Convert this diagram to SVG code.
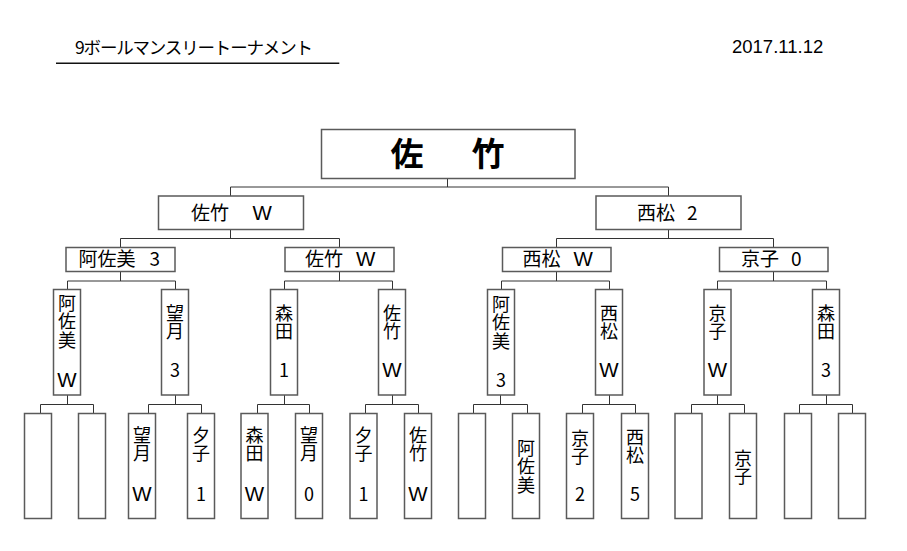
<svg xmlns="http://www.w3.org/2000/svg" width="907" height="551" viewBox="0 0 907 551">
<style>
  .bg { fill: #ffffff; }
  .box { fill: #ffffff; stroke: #5a5a5a; stroke-width: 1.5; }
  .con { fill: none; stroke: #333333; stroke-width: 1; }
  .jp { font-family: "Noto Sans CJK JP", "Noto Sans", sans-serif; font-size: 19px; fill: #000; }
  .vt { font-family: "Noto Sans CJK JP", "Noto Sans", sans-serif; font-size: 18px; fill: #000; text-anchor: middle; }
  .w { font-family: "Liberation Sans", Arial, sans-serif; font-size: 20.5px; }
  .champ { font-family: "Noto Sans CJK JP", sans-serif; font-size: 33px; font-weight: 700; fill: #000; }
  .title { font-family: "Noto Sans CJK JP", "Liberation Sans", sans-serif; font-size: 17.5px; fill: #000; }
  .date { font-family: "Liberation Sans", Arial, sans-serif; font-size: 18.5px; fill: #000; }
</style>
<rect class="bg" x="0" y="0" width="907" height="551"/>

<g id="header">
  <text class="title" x="75" y="53.5" textLength="238" lengthAdjust="spacing">9ボールマンスリートーナメント</text>
  <line x1="56" y1="63.3" x2="339.3" y2="63.3" stroke="#111" stroke-width="1.5"/>
  <text class="date" x="732" y="53">2017.11.12</text>
</g>

<g id="connectors">
  <path class="con" d="M447.5 178.5 V187 M230.5 196 V187 H668.5 V196"/>
  <path class="con" d="M230.5 229.5 V238.5 M120.5 247.5 V238.5 H339.5 V247.5"/>
  <path class="con" d="M668.5 229.5 V238.5 M556.5 247.5 V238.5 H773.5 V247.5"/>
  <path class="con" d="M120.5 271.5 V281 M67.5 289.5 V281 H175.5 V289.5"/>
  <path class="con" d="M339.5 271.5 V281 M284.5 289.5 V281 H392.5 V289.5"/>
  <path class="con" d="M556.5 271.5 V281 M501.5 289.5 V281 H609.5 V289.5"/>
  <path class="con" d="M773.5 271.5 V281 M717.5 289.5 V281 H826.5 V289.5"/>
  <path class="con" d="M67.5 395 V404.5 M40.5 413.5 V404.5 H93.5 V413.5"/>
  <path class="con" d="M175.5 395 V404.5 M148.5 413.5 V404.5 H201.5 V413.5"/>
  <path class="con" d="M284.5 395 V404.5 M257.5 413.5 V404.5 H309.5 V413.5"/>
  <path class="con" d="M392.5 395 V404.5 M365.5 413.5 V404.5 H418.5 V413.5"/>
  <path class="con" d="M500.5 395 V404.5 M473.5 413.5 V404.5 H527.5 V413.5"/>
  <path class="con" d="M609.5 395 V404.5 M582.5 413.5 V404.5 H635.5 V413.5"/>
  <path class="con" d="M717.5 395 V404.5 M691.5 413.5 V404.5 H744.5 V413.5"/>
  <path class="con" d="M826.5 395 V404.5 M799.5 413.5 V404.5 H852.5 V413.5"/>
</g>

<g id="champion">
  <rect class="box" x="321.5" y="129.5" width="253.5" height="49"/>
  <text class="champ" y="166"><tspan x="390.5">佐</tspan> <tspan x="471.5">竹</tspan></text>
</g>

<g id="semi-left">
  <rect class="box" x="158.5" y="196" width="145" height="33.5"/>
  <text class="jp" x="191" y="219.5">佐竹 <tspan class="w" x="252.5">W</tspan></text>
</g>
<g id="semi-right">
  <rect class="box" x="596" y="196" width="145" height="33.5"/>
  <text class="jp" x="637" y="219.5">西松 <tspan x="687">2</tspan></text>
</g>

<g id="q1">
  <rect class="box" x="66" y="247.5" width="109" height="24"/>
  <text class="jp" x="78.5" y="266">阿佐美 <tspan x="149.5">3</tspan></text>
</g>
<g id="q2">
  <rect class="box" x="285" y="247.5" width="109" height="24"/>
  <text class="jp" x="305" y="266">佐竹 <tspan class="w" x="356">W</tspan></text>
</g>
<g id="q3">
  <rect class="box" x="502.5" y="247.5" width="108.5" height="24"/>
  <text class="jp" x="522.5" y="266">西松 <tspan class="w" x="573.5">W</tspan></text>
</g>
<g id="q4">
  <rect class="box" x="719.5" y="247.5" width="108.5" height="24"/>
  <text class="jp" x="741" y="266">京子 <tspan x="791">0</tspan></text>
</g>

<g id="r1">
  <rect class="box" x="53.5" y="289.5" width="27" height="105.5"/>
  <text class="vt"><tspan x="67" y="310">阿</tspan><tspan x="67" y="328.3">佐</tspan><tspan x="67" y="346.6">美</tspan><tspan class="w" x="67" y="387">W</tspan></text>
</g>
<g id="r2">
  <rect class="box" x="161.5" y="289.5" width="27" height="105.5"/>
  <text class="vt"><tspan x="175" y="320">望</tspan><tspan x="175" y="338.3">月</tspan><tspan x="175" y="377">3</tspan></text>
</g>
<g id="r3">
  <rect class="box" x="270.5" y="289.5" width="27" height="105.5"/>
  <text class="vt"><tspan x="284" y="320">森</tspan><tspan x="284" y="338.3">田</tspan><tspan x="284" y="377">1</tspan></text>
</g>
<g id="r4">
  <rect class="box" x="378.5" y="289.5" width="27" height="105.5"/>
  <text class="vt"><tspan x="392" y="320">佐</tspan><tspan x="392" y="338.3">竹</tspan><tspan class="w" x="392" y="377">W</tspan></text>
</g>
<g id="r5">
  <rect class="box" x="487.5" y="289.5" width="27" height="105.5"/>
  <text class="vt"><tspan x="501" y="311">阿</tspan><tspan x="501" y="329.3">佐</tspan><tspan x="501" y="347.6">美</tspan><tspan x="501" y="387">3</tspan></text>
</g>
<g id="r6">
  <rect class="box" x="595.5" y="289.5" width="27" height="105.5"/>
  <text class="vt"><tspan x="609" y="320">西</tspan><tspan x="609" y="338.3">松</tspan><tspan class="w" x="609" y="377">W</tspan></text>
</g>
<g id="r7">
  <rect class="box" x="704" y="289.5" width="27" height="105.5"/>
  <text class="vt"><tspan x="717.5" y="320">京</tspan><tspan x="717.5" y="338.3">子</tspan><tspan class="w" x="717.5" y="377">W</tspan></text>
</g>
<g id="r8">
  <rect class="box" x="812.5" y="289.5" width="27" height="105.5"/>
  <text class="vt"><tspan x="826" y="320">森</tspan><tspan x="826" y="338.3">田</tspan><tspan x="826" y="377">3</tspan></text>
</g>

<g id="s1"><rect class="box" x="24.5" y="413.5" width="27" height="105"/></g>
<g id="s2"><rect class="box" x="78.5" y="413.5" width="27" height="105"/></g>
<g id="s3">
  <rect class="box" x="128.5" y="413.5" width="27" height="105"/>
  <text class="vt"><tspan x="142" y="441.7">望</tspan><tspan x="142" y="460">月</tspan><tspan class="w" x="142" y="500.5">W</tspan></text>
</g>
<g id="s4">
  <rect class="box" x="187.5" y="413.5" width="27" height="105"/>
  <text class="vt"><tspan x="201" y="441.7">夕</tspan><tspan x="201" y="460">子</tspan><tspan x="201" y="500.5">1</tspan></text>
</g>
<g id="s5">
  <rect class="box" x="241" y="413.5" width="27" height="105"/>
  <text class="vt"><tspan x="254.5" y="441.7">森</tspan><tspan x="254.5" y="460">田</tspan><tspan class="w" x="254.5" y="500.5">W</tspan></text>
</g>
<g id="s6">
  <rect class="box" x="295.5" y="413.5" width="27" height="105"/>
  <text class="vt"><tspan x="309" y="441.7">望</tspan><tspan x="309" y="460">月</tspan><tspan x="309" y="500.5">0</tspan></text>
</g>
<g id="s7">
  <rect class="box" x="350" y="413.5" width="27" height="105"/>
  <text class="vt"><tspan x="363.5" y="441.7">夕</tspan><tspan x="363.5" y="460">子</tspan><tspan x="363.5" y="500.5">1</tspan></text>
</g>
<g id="s8">
  <rect class="box" x="404.5" y="413.5" width="27" height="105"/>
  <text class="vt"><tspan x="418" y="441.7">佐</tspan><tspan x="418" y="460">竹</tspan><tspan class="w" x="418" y="500.5">W</tspan></text>
</g>
<g id="s9"><rect class="box" x="458.5" y="413.5" width="27" height="105"/></g>
<g id="s10">
  <rect class="box" x="512.5" y="413.5" width="27" height="105"/>
  <text class="vt"><tspan x="526" y="455">阿</tspan><tspan x="526" y="473.3">佐</tspan><tspan x="526" y="491.6">美</tspan></text>
</g>
<g id="s11">
  <rect class="box" x="566.5" y="413.5" width="27" height="105"/>
  <text class="vt"><tspan x="580" y="444.5">京</tspan><tspan x="580" y="462.8">子</tspan><tspan x="580" y="500.5">2</tspan></text>
</g>
<g id="s12">
  <rect class="box" x="621.5" y="413.5" width="27" height="105"/>
  <text class="vt"><tspan x="635" y="444">西</tspan><tspan x="635" y="462.3">松</tspan><tspan x="635" y="500.5">5</tspan></text>
</g>
<g id="s13"><rect class="box" x="675" y="413.5" width="27" height="105"/></g>
<g id="s14">
  <rect class="box" x="729.5" y="413.5" width="27" height="105"/>
  <text class="vt"><tspan x="743" y="465">京</tspan><tspan x="743" y="483.3">子</tspan></text>
</g>
<g id="s15"><rect class="box" x="784.5" y="413.5" width="27" height="105"/></g>
<g id="s16"><rect class="box" x="838.5" y="413.5" width="27" height="105"/></g>
</svg>
